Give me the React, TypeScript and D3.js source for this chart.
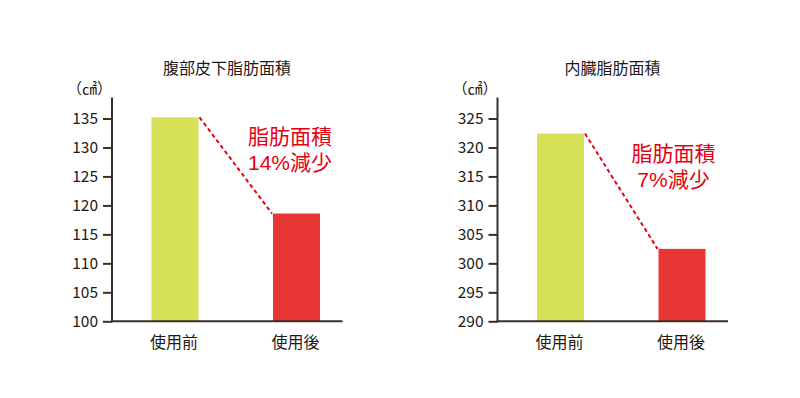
import React, { useEffect, useRef } from "react";
import * as d3 from "d3";

const categories = ["使用前", "使用後"];

const subcutaneousTitle = "腹部皮下脂肪面積";
const subcutaneousValues = [135.2, 118.6];
const subcutaneousTicks = [100, 105, 110, 115, 120, 125, 130, 135];
const subcutaneousNote = ["脂肪面積", "14%減少"];

const visceralTitle = "内臓脂肪面積";
const visceralValues = [322.4, 302.5];
const visceralTicks = [290, 295, 300, 305, 310, 315, 320, 325];
const visceralNote = ["脂肪面積", "7%減少"];

const unitLabel = "（㎠）";

const FONT = "'Noto Sans CJK JP', 'Noto Sans', sans-serif";
const NOTE_FONT = "'Liberation Sans', 'Noto Sans CJK JP', sans-serif";
const INK = "#231815";
const AXIS = "#3b2e28";
const BAR_COLORS = ["#d6e157", "#e83634"];
const NOTE_RED = "#e50012";

const App = () => {
  const chartRef = useRef(null);

  useEffect(() => {
    const svg = d3.select(chartRef.current);
    svg.selectAll("*").remove();
    drawPanel(svg, 112, subcutaneousTitle, subcutaneousValues, subcutaneousTicks, subcutaneousNote, 178);
    drawPanel(svg, 497.5, visceralTitle, visceralValues, visceralTicks, visceralNote, 176);
  }, []);

  const drawPanel = (svg, x0, title, values, ticks, note, noteDx) => {
    const g = svg.append("g").attr("transform", `translate(${x0},0)`);

    const y = d3
      .scaleLinear()
      .domain([ticks[0], ticks[ticks.length - 1]])
      .range([321.3, 118.5]);

    const x = d3.scalePoint().domain(categories).range([63, 184.5]);
    const barW = 47;

    // title + unit
    g.append("text")
      .attr("x", 115)
      .attr("y", 74)
      .attr("text-anchor", "middle")
      .attr("font-family", FONT)
      .attr("font-size", 16)
      .attr("fill", INK)
      .text(title);

    g.append("text")
      .attr("x", -45)
      .attr("y", 94)
      .attr("font-family", FONT)
      .attr("font-size", 15)
      .attr("fill", INK)
      .text(unitLabel);

    // bars
    g.selectAll("rect.bar")
      .data(values)
      .enter()
      .append("rect")
      .attr("class", "bar")
      .attr("x", (d, i) => x(categories[i]) - barW / 2)
      .attr("y", (d) => y(d))
      .attr("width", barW)
      .attr("height", (d) => y(ticks[0]) - y(d))
      .attr("fill", (d, i) => BAR_COLORS[i]);

    // dashed connector
    g.append("line")
      .attr("x1", x(categories[0]) + barW / 2 + 1)
      .attr("y1", y(values[0]))
      .attr("x2", x(categories[1]) - barW / 2 - 1)
      .attr("y2", y(values[1]))
      .attr("stroke", NOTE_RED)
      .attr("stroke-width", 2)
      .attr("stroke-dasharray", "4,3");

    // y axis
    const yAxis = d3
      .axisLeft(y)
      .tickValues(ticks)
      .tickSize(9)
      .tickPadding(5)
      .tickSizeOuter(0);

    const ya = g.append("g").call(yAxis);
    ya.select(".domain").remove();
    ya.selectAll(".tick line").attr("stroke", AXIS).attr("stroke-width", 2);
    ya.selectAll(".tick text")
      .attr("font-family", FONT)
      .attr("font-size", 15.5)
      .attr("fill", INK);

    g.append("line")
      .attr("x1", 0)
      .attr("x2", 0)
      .attr("y1", 97.5)
      .attr("y2", 322.3)
      .attr("stroke", AXIS)
      .attr("stroke-width", 2);

    g.append("line")
      .attr("x1", -1)
      .attr("x2", 230.5)
      .attr("y1", 321.3)
      .attr("y2", 321.3)
      .attr("stroke", AXIS)
      .attr("stroke-width", 2);

    // category labels
    g.selectAll("text.cat")
      .data(categories)
      .enter()
      .append("text")
      .attr("class", "cat")
      .attr("x", (d) => x(d) - 1)
      .attr("y", 348)
      .attr("text-anchor", "middle")
      .attr("font-family", FONT)
      .attr("font-size", 16)
      .attr("fill", INK)
      .text((d) => d);

    // note, two lines
    const noteTop = y(values[0]) + 27;
    g.selectAll("text.note")
      .data(note)
      .enter()
      .append("text")
      .attr("class", "note")
      .attr("x", noteDx)
      .attr("y", (d, i) => noteTop + i * 26)
      .attr("text-anchor", "middle")
      .attr("font-family", NOTE_FONT)
      .attr("font-size", 21)
      .attr("fill", NOTE_RED)
      .text((d) => d);
  };

  return (
    <div style={{ position: "absolute", left: 0, top: 0 }}>
      <svg ref={chartRef} width={800} height={398} style={{ display: "block", background: "#fff" }}></svg>
    </div>
  );
};

export default App;
